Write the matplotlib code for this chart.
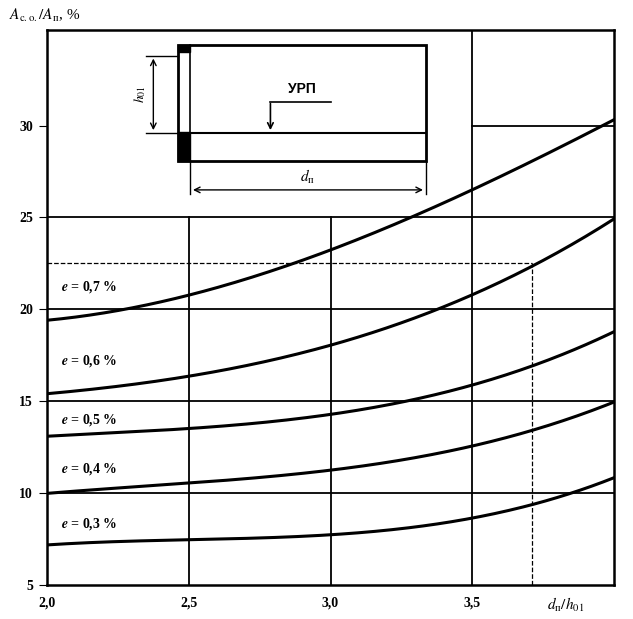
import numpy as np
import matplotlib.pyplot as plt
from matplotlib.patches import Rectangle

plt.rcParams['font.family'] = ['Liberation Serif', 'DejaVu Serif']
plt.rcParams['mathtext.fontset'] = 'stix'

# values (d_n/h_01 -> A_c.o./A_n, %)
x_pts = [2.0, 2.5, 3.0, 3.5, 3.75, 4.0]
e07 = [19.4, 20.8, 23.2, 26.5, 28.4, 30.3]
e06 = [15.4, 16.4, 18.0, 20.8, 22.7, 24.9]
e05 = [13.1, 13.5, 14.3, 15.9, 17.1, 18.8]
e04 = [10.0, 10.5, 11.3, 12.6, 13.5, 15.0]
e03 = [7.2, 7.4, 7.8, 8.7, 9.4, 10.9]
curve_labels = ['0,7', '0,6', '0,5', '0,4', '0,3']
label_y = [21.2, 17.2, 14.0, 11.3, 8.3]
x_ticks = [2.0, 2.5, 3.0, 3.5]
x_tick_labels = ['2,0', '2,5', '3,0', '3,5']
y_ticks = [5, 10, 15, 20, 25, 30]
x_read, y_read = 3.71, 22.5

fig = plt.figure(figsize=(6.33, 6.19), dpi=100)
ax = fig.add_axes([0.0743, 0.0549, 0.8957, 0.8966])
ax.set_xlim(2.0, 4.0)
ax.set_ylim(5, 35.2)

# grid
for y in [10, 15, 20, 25]:
    ax.plot([2.0, 4.0], [y, y], color='k', lw=1.3)
ax.plot([3.5, 4.0], [30, 30], color='k', lw=1.3)
for x in [2.5, 3.0]:
    ax.plot([x, x], [5, 25], color='k', lw=1.3)
ax.plot([3.5, 3.5], [5, 35.2], color='k', lw=1.3)

xs = np.linspace(2.0, 4.0, 200)
for ys, lab, ly in zip([e07, e06, e05, e04, e03], curve_labels, label_y):
    c = np.polyfit(x_pts, ys, 3)
    ax.plot(xs, np.polyval(c, xs), color='k', lw=2.2)
    ax.text(2.05, ly, r'$\mathbfit{e}$' + ' = ' + lab + ' %', fontsize=10,
            fontweight='bold', va='center')

# reading example
ax.plot([2.0, x_read], [y_read, y_read], 'k--', lw=0.9)
ax.plot([x_read, x_read], [5, y_read], 'k--', lw=0.9)

# inset diagram
ax.add_patch(Rectangle((2.463, 28.1), 3.336 - 2.463, 34.4 - 28.1, fill=False, lw=2))
ax.plot([2.505, 2.505], [28.1, 34.4], color='k', lw=1.2)
ax.add_patch(Rectangle((2.463, 34.0), 0.042, 0.4, color='k'))
ax.add_patch(Rectangle((2.463, 28.1), 0.042, 1.55, color='k'))
ax.plot([2.505, 3.336], [29.6, 29.6], color='k', lw=1.5)
ax.plot([2.35, 2.463], [33.8, 33.8], color='k', lw=1)
ax.plot([2.35, 2.463], [29.6, 29.6], color='k', lw=1)
ax.annotate('', xy=(2.375, 33.8), xytext=(2.375, 29.6),
            arrowprops=dict(arrowstyle='<->', lw=1))
ax.text(2.33, 31.7, r'$h_{01}$', rotation=90, fontsize=10, ha='center', va='center')
ax.plot([2.505, 2.505], [26.3, 28.1], color='k', lw=1)
ax.plot([3.336, 3.336], [26.3, 28.1], color='k', lw=1)
ax.annotate('', xy=(2.505, 26.5), xytext=(3.336, 26.5),
            arrowprops=dict(arrowstyle='<->', lw=1))
ax.text(2.92, 27.2, r'$d_{\rm п}$', fontsize=11, ha='center', va='center')
ax.plot([2.788, 3.0], [31.3, 31.3], color='k', lw=1.2)
ax.annotate('', xy=(2.788, 29.6), xytext=(2.788, 31.35),
            arrowprops=dict(arrowstyle='->', lw=1.2))
ax.text(2.9, 32.0, 'УРП', fontsize=10, fontweight='bold', ha='center', va='center',
        family=['Liberation Sans', 'DejaVu Sans'])

ax.set_xticks(x_ticks)
ax.set_xticklabels(x_tick_labels, fontweight='bold', fontsize=10)
ax.set_yticks(y_ticks)
ax.set_yticklabels([str(v) for v in y_ticks], fontsize=10, fontweight='bold')
ax.tick_params(direction='in', length=0, pad=8)
ax.tick_params(axis='y', length=6, direction='out', pad=4)
for s in ax.spines.values():
    s.set_linewidth(1.8)

fig.text(0.015, 0.975, r'$A_{\rm с.о.}/A_{\rm п}$, %', fontsize=11, va='center')
ax.text(3.83, 3.9, r'$d_{\rm п}/h_{01}$', fontsize=11, ha='center', va='center')

fig.savefig('out.png', dpi=100)
